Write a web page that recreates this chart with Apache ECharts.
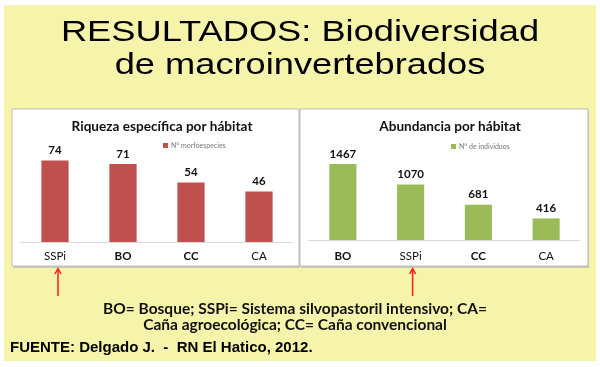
<!DOCTYPE html>
<html><head><meta charset="utf-8">
<script src="https://cdn.jsdelivr.net/npm/echarts@6/dist/echarts.min.js"></script>
<style>html,body{margin:0;padding:0;background:#fff}#c{width:600px;height:367px}</style>
</head><body><div id="c"></div>
<script>
const catsRiqueza = ['SSPi', 'BO', 'CC', 'CA'];
const valsRiqueza = [74, 71, 54, 46];
const catsAbund = ['BO', 'SSPi', 'CC', 'CA'];
const valsAbund = [1467, 1070, 681, 416];
const boldCats = ['BO', 'CC'];
const mainTitle = ['RESULTADOS: Biodiversidad', 'de macroinvertebrados'];

const chart = echarts.init(document.getElementById('c'), null, {renderer: 'canvas'});
const catLabel = {
  fontFamily: 'Lato', fontSize: 11.5, color: '#111',
  formatter: v => boldCats.includes(v) ? '{b|' + v + '}' : '{n|' + v + '}',
  rich: {b: {fontWeight: 'bold', fontFamily: 'Lato', fontSize: 11.5, color: '#111'},
         n: {fontWeight: 'normal', fontFamily: 'Lato', fontSize: 11.5, color: '#111', letterSpacing: 1}}
};
const titleFont = {fontFamily: 'Liberation Sans', fontSize: 29, fontWeight: 'normal'};
const baseGraphic = [
  {type: 'rect', z: -10, shape: {x: 4, y: 5, width: 592, height: 356}, style: {fill: '#F6F4AB'}},
  {type: 'rect', z: -9, shape: {x: 13, y: 110, width: 287, height: 158}, style: {fill: '#c8c8b0'}},
  {type: 'rect', z: -8, shape: {x: 12, y: 109, width: 287, height: 157}, style: {fill: '#fff', stroke: '#bdbdbd', lineWidth: 1}},
  {type: 'rect', z: -9, shape: {x: 301, y: 110, width: 288, height: 158}, style: {fill: '#c8c8b0'}},
  {type: 'rect', z: -8, shape: {x: 300, y: 109, width: 288, height: 157}, style: {fill: '#fff', stroke: '#bdbdbd', lineWidth: 1}},
  {type: 'text', x: 300, y: 33, scaleX: 1.25, z: 5,
   style: {x: 0, y: 0, text: mainTitle[0], fill: '#000', font: 'normal 29px "Liberation Sans"', textAlign: 'center', textVerticalAlign: 'middle'}},
  {type: 'text', x: 300, y: 66, scaleX: 1.25, z: 5,
   style: {x: 0, y: 0, text: mainTitle[1], fill: '#000', font: 'normal 29px "Liberation Sans"', textAlign: 'center', textVerticalAlign: 'middle'}}
];
const option = {
  backgroundColor: '#fff',
  animation: false,
  graphic: baseGraphic,
  title: [
    {text: 'Riqueza específica por hábitat', left: 157, textAlign: 'center', top: 115,
     textStyle: {fontFamily: 'Lato', fontSize: 13.6, fontWeight: 'bold', color: '#111'}},
    {text: 'Abundancia por hábitat', left: 445, textAlign: 'center', top: 115,
     textStyle: {fontFamily: 'Lato', fontSize: 13.6, fontWeight: 'bold', color: '#111'}},
    {text: 'BO= Bosque; SSPi= Sistema silvopastoril intensivo; CA=\nCaña agroecológica; CC= Caña convencional', left: 290, textAlign: 'center', top: 296,
     textStyle: {fontFamily: 'Lato', fontSize: 15.5, fontWeight: 'bold', color: '#111', lineHeight: 16, align: 'center'}},
    {text: 'FUENTE: Delgado J.  -  RN El Hatico, 2012.', left: 5, top: 335,
     textStyle: {fontFamily: 'Liberation Sans', fontSize: 15, fontWeight: 'bold', color: '#000'}}
  ],
  legend: [
    {data: ['N° morfoespecies'], left: 158, textAlign: 'center', top: 137, itemWidth: 5, itemHeight: 5, itemGap: 3,
     icon: 'rect', textStyle: {fontSize: 7, color: '#777', fontFamily: 'Lato', padding: [0, 0, 0, -2]}},
    {data: ['N° de individuos'], left: 446, top: 138, itemWidth: 5, itemHeight: 5, itemGap: 3,
     icon: 'rect', textStyle: {fontSize: 7, color: '#777', fontFamily: 'Lato', padding: [0, 0, 0, -2]}}
  ],
  grid: [
    {left: 21, right: 307, top: 154, bottom: 125},
    {left: 309, right: 20, top: 157, bottom: 127}
  ],
  xAxis: [
    {type: 'category', gridIndex: 0, data: catsRiqueza, axisTick: {show: false},
     axisLine: {lineStyle: {color: '#d9d9d9'}}, axisLabel: Object.assign({margin: 8}, catLabel)},
    {type: 'category', gridIndex: 1, data: catsAbund, axisTick: {show: false},
     axisLine: {lineStyle: {color: '#d9d9d9'}}, axisLabel: Object.assign({margin: 10}, catLabel)}
  ],
  yAxis: [
    {type: 'value', gridIndex: 0, min: 0, max: 80, show: false, splitLine: {show: false}},
    {type: 'value', gridIndex: 1, min: 0, max: 1600, show: false, splitLine: {show: false}}
  ],
  series: [
    {name: 'N° morfoespecies', type: 'bar', xAxisIndex: 0, yAxisIndex: 0, data: valsRiqueza,
     barCategoryGap: '60%', itemStyle: {color: '#C0504D'},
     label: {show: true, position: 'top', distance: 4, fontFamily: 'Lato', fontWeight: 'bold', fontSize: 11.5, color: '#111'}},
    {name: 'N° de individuos', type: 'bar', xAxisIndex: 1, yAxisIndex: 1, data: valsAbund,
     barCategoryGap: '60%', itemStyle: {color: '#9BBB59'},
     label: {show: true, position: 'top', distance: 4, fontFamily: 'Lato', fontWeight: 'bold', fontSize: 11.5, color: '#111'}}
  ]
};
chart.setOption(option);

// red arrows pointing at SSPi in each chart
function arrowAt(x) {
  return [
    {type: 'line', shape: {x1: x, y1: 269, x2: x, y2: 296}, style: {stroke: '#ff1a1a', lineWidth: 1.5}, z: 10},
    {type: 'polyline', shape: {points: [[x - 3, 274], [x, 268.5], [x + 3, 274]]}, style: {stroke: '#ff1a1a', lineWidth: 1.5, fill: null}, z: 10}
  ];
}
const xa = chart.convertToPixel({xAxisIndex: 0}, 'SSPi');
const xb = chart.convertToPixel({xAxisIndex: 1}, 'SSPi');
chart.setOption({graphic: baseGraphic.concat(arrowAt(xa + 3), arrowAt(xb + 2))});
</script>
</body></html>
